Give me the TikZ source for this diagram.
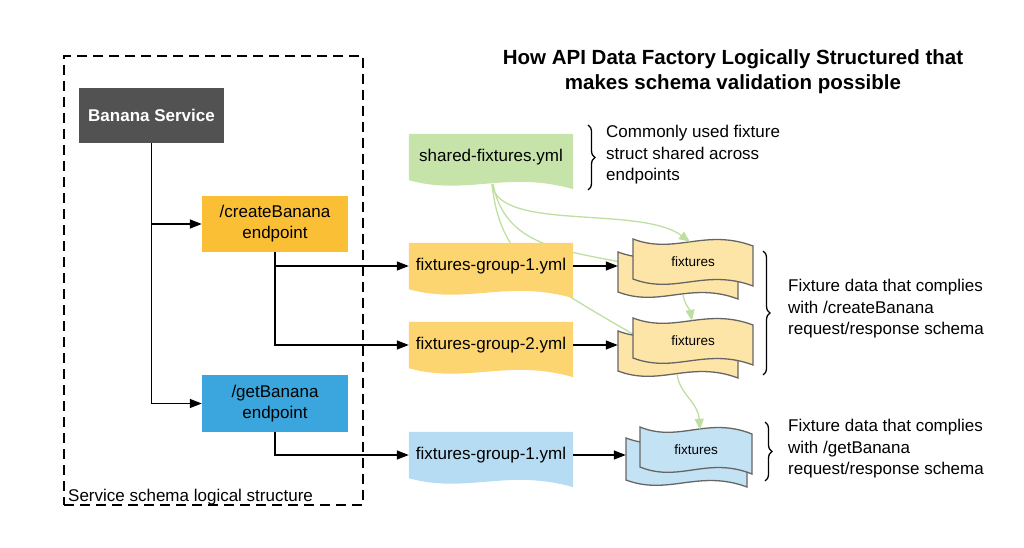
\documentclass[tikz,border=0pt]{standalone}
\usepackage{fontspec}
\setmainfont{Liberation Sans}
\usetikzlibrary{arrows.meta,decorations.pathreplacing,calc,backgrounds}
\definecolor{bsgray}{HTML}{525252}
\definecolor{ceorange}{HTML}{FBBF36}
\definecolor{geblue}{HTML}{3AA6DD}
\definecolor{sfgreen}{HTML}{C6E4A9}
\definecolor{gyellow}{HTML}{FDD570}
\definecolor{gblue}{HTML}{B5DCF3}
\definecolor{fyellow}{HTML}{FCE5A6}
\definecolor{fblue}{HTML}{C3E3F5}
\definecolor{tapegray}{HTML}{666666}
\definecolor{lgreen}{HTML}{BEDFA0}
\newcommand{\tapeshape}[5]{%
  \filldraw[#5] (#1,#2) .. controls ({#1+0.35*#3},{#2+16}) and ({#1+0.6*#3},{#2-11}) .. ({#1+#3},{#2+7})
    -- ({#1+#3},{#2+#4+7}) .. controls ({#1+0.6*#3},{#2+#4-11}) and ({#1+0.35*#3},{#2+#4+16}) .. (#1,{#2+#4}) -- cycle;}
\newcommand{\docshape}[2]{%
  \fill[#2] (#1.north west) -- (#1.north east) -- ($(#1.south east)+(0,9)$)
    .. controls ($(#1.south west)+(0.6*164,-10)$) and ($(#1.south west)+(0.35*164,16)$) .. (#1.south west) -- cycle;}
\tikzset{
  txt/.style={font=\fontsize{17}{21.5}\selectfont, align=left, inner sep=0},
  rectbox/.style={minimum width=146pt, minimum height=56pt, inner sep=0, align=center, font=\fontsize{17}{21}\selectfont},
  docbox/.style={minimum width=164pt, minimum height=46pt, inner sep=0, font=\fontsize{17}{21}\selectfont},
  tapebox/.style={minimum width=120pt, minimum height=40pt, inner sep=0, font=\fontsize{13.5}{15}\selectfont},
  arr/.style={line width=1.3pt, -{Triangle[length=12pt,width=9pt]}},
  garr/.style={draw=lgreen, line width=1.3pt, -{Triangle[length=11pt,width=9pt,fill=lgreen]}},
  gline/.style={draw=lgreen, line width=1.3pt},
  brc/.style={decorate, decoration={brace, amplitude=7pt}, line width=1.3pt},
}
\begin{document}
\begin{tikzpicture}[x=1pt,y=-1pt]
\useasboundingbox (0,0) rectangle (1024,548);

% frame
\node[draw, line width=1.3pt, dash pattern=on 10pt off 6pt, minimum width=299pt, minimum height=449pt, inner sep=0] (frame) at (213.5,280.5) {};
\node[txt, anchor=base west] (framelbl) at (68,501) {Service schema logical structure};

% title
\node[font=\fontsize{20.5}{25}\selectfont\bfseries, align=center] (title) at (733,72) {How API Data Factory Logically Structured that\\makes schema validation possible};

% rect boxes
\node[rectbox, fill=bsgray, text=white, font=\fontsize{17}{21}\selectfont\bfseries, minimum width=145pt, minimum height=55pt] (bs) at (151.5,115.5) {Banana Service};
\node[rectbox, fill=ceorange] (ce) at (275,224) {/createBanana\\endpoint};
\node[rectbox, fill=geblue, minimum height=57pt] (ge) at (275,403.5) {/getBanana\\endpoint};

% doc nodes
\node[docbox] (sf) at (491,157) {shared-fixtures.yml};
\node[docbox] (g1) at (491,266) {fixtures-group-1.yml};
\node[docbox] (g2) at (491,345) {fixtures-group-2.yml};
\node[docbox] (g3) at (491,455) {fixtures-group-1.yml};

% tape nodes
\node[tapebox] (f1b) at (678,275) {};
\node[tapebox] (f1) at (693,262) {fixtures};
\node[tapebox] (f2b) at (678,354) {};
\node[tapebox] (f2) at (693,341) {fixtures};
\node[tapebox, minimum width=121pt, minimum height=42pt] (f3b) at (686.5,462) {};
\node[tapebox, minimum width=112pt] (f3) at (696,450) {fixtures};

\begin{scope}[on background layer]
  % hidden green lines
  \draw[gline] ($(sf.south)+(2,4)$) .. controls (505,245) and (560,250) .. ($(f1b.west)+(8,-12)$);
  \draw[gline] ($(sf.south)+(1,4)$) .. controls (500,260) and (540,280) .. ($(f2.north west)+(3,15)$);
  % document shapes
  \docshape{sf}{sfgreen}
  \docshape{g1}{gyellow}
  \docshape{g2}{gyellow}
  \docshape{g3}{gblue}
  % tapes
  \tapeshape{618}{252}{120}{40}{fill=fyellow, draw=tapegray, line width=1.3pt}
  \tapeshape{633}{239}{120}{40}{fill=fyellow, draw=tapegray, line width=1.3pt}
  \tapeshape{618}{331}{120}{40}{fill=fyellow, draw=tapegray, line width=1.3pt}
  \tapeshape{633}{318}{120}{40}{fill=fyellow, draw=tapegray, line width=1.3pt}
  \tapeshape{626}{438}{121}{42}{fill=fblue, draw=tapegray, line width=1.3pt}
  \tapeshape{640}{427}{112}{40}{fill=fblue, draw=tapegray, line width=1.3pt}
\end{scope}

% black connectors
\draw[arr] (bs.south) |- (ce.west);
\draw[arr] (bs.south) |- (ge.west);
\draw[arr] (ce.south) |- (g1.west);
\draw[arr] (ce.south) |- (g2.west);
\draw[arr] (ge.south) |- (g3.west);
\draw[arr] (g1.east) -- (g1.east -| f1b.west);
\draw[arr] (g2.east) -- (g2.east -| f2b.west);
\draw[arr] (g3.east) -- (g3.east -| f3b.west);

% green arrows
\draw[garr] ($(sf.south)+(1,4)$) .. controls (498,232) and (640,205) .. ($(f1.north)+(-3,0)$);
\draw[garr] ($(f1b.south)+(5,0)$) .. controls (685,305) and (690,310) .. ($(f2.north)+(-1,0)$);
\draw[garr] ($(f2b.south)+(-1,0)$) .. controls (680,395) and (698,402) .. ($(f3.north)+(4,0)$);

% braces and notes
\draw[brc] (588,125) -- (588,190);
\node[txt, anchor=west] (note1) at (606,155) {Commonly used fixture\\struct shared across\\endpoints};
\draw[brc] (763,251) -- (763,375);
\node[txt, anchor=west] (note2) at (788,309) {Fixture data that complies\\with /createBanana\\request/response schema};
\draw[brc] (765,422) -- (765,481);
\node[txt, anchor=west] (note3) at (788,449) {Fixture data that complies\\with /getBanana\\request/response schema};
\end{tikzpicture}
\end{document}
